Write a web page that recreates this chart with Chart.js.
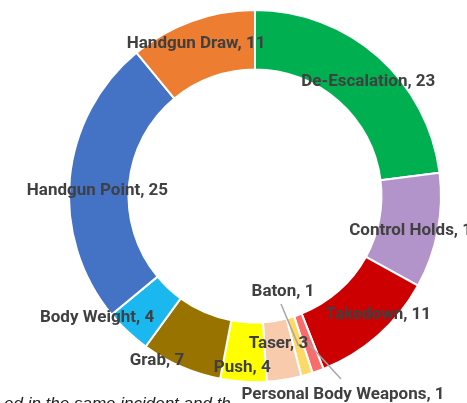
<!DOCTYPE html>
<html>
<head>
<meta charset="utf-8">
<script src="https://cdn.jsdelivr.net/npm/chart.js@4/dist/chart.umd.min.js"></script>
<style>
  html, body { margin: 0; padding: 0; background: #fff; }
  #wrap { width: 467px; height: 403px; position: relative; }
</style>
</head>
<body>
<div id="wrap"><canvas id="forceChart" width="467" height="403"></canvas></div>
<script>
// categories, clockwise from 12 o'clock
var forceTypes = ['De-Escalation', 'Control Holds', 'Takedown', 'Personal Body Weapons', 'Baton',
    'Taser', 'Push', 'Grab', 'Body Weight', 'Handgun Point', 'Handgun Draw'];
// counts
var forceCounts = [23, 10, 11, 1, 1, 3, 4, 7, 4, 25, 11];
var sliceColors = ['#00B050', '#B294CB', '#CC0000', '#F86C6C', '#FFD966',
    '#F8CBAD', '#FFFF00', '#997300', '#1AB8EE', '#4472C4', '#ED7D31'];

// label nudges from the middle of each ring segment (dx, dy), leader = draw a line
var labelNudge = [
    { dx: 10, dy: 3 }, { dx: 7, dy: 5 }, { dx: 20, dy: 2 },
    { dx: 0, dy: 0, at: [343, 395], leader: true },
    { dx: 0, dy: 0, at: [283, 292], leader: true },
    { dx: -1, dy: -7 }, { dx: -3, dy: 16 }, { dx: -36, dy: 21 },
    { dx: -51, dy: 8 }, { dx: -2, dy: 9 }, { dx: -6, dy: -5 }
];

// draws "Name, value" labels the way Excel does on the ring
var ringLabels = {
    id: 'ringLabels',
    afterDatasetsDraw: function (chart) {
        var ctx = chart.ctx;
        var arcs = chart.getDatasetMeta(0).data;
        ctx.save();
        ctx.font = 'bold 17px Roboto, "Liberation Sans", sans-serif';
        ctx.fillStyle = '#404040';
        ctx.textAlign = 'center';
        ctx.textBaseline = 'middle';
        arcs.forEach(function (arc, i) {
            var p = arc.tooltipPosition();
            var n = labelNudge[i];
            var txt = forceTypes[i] + ', ' + forceCounts[i];
            if (n.leader) {
                var lx = n.at[0], ly = n.at[1];
                ctx.strokeStyle = '#A6A6A6';
                ctx.lineWidth = 1.5;
                ctx.beginPath();
                ctx.moveTo(lx - 2, ly + (ly < p.y ? 12 : -16));
                ctx.lineTo(p.x, p.y);
                ctx.stroke();
                ctx.fillText(txt, lx, ly);
            } else {
                ctx.fillText(txt, p.x + n.dx, p.y + n.dy);
            }
        });
        // cut-off caption line under the chart
        ctx.font = 'italic 17px "Liberation Sans", sans-serif';
        ctx.fillStyle = '#222';
        ctx.textAlign = 'left';
        ctx.textBaseline = 'alphabetic';
        ctx.fillText('ed in the same incident and th', 4, 409);
        ctx.restore();
    }
};

var forceChart = new Chart(document.getElementById('forceChart'), {
    type: 'doughnut',
    data: {
        labels: forceTypes,
        datasets: [{
            data: forceCounts,
            backgroundColor: sliceColors,
            borderColor: '#ffffff',
            borderWidth: 2
        }]
    },
    options: {
        responsive: false,
        animation: false,
        cutout: '68%',
        layout: { padding: { left: 68, right: 25, top: 9, bottom: 20 } },
        plugins: {
            legend: { display: false },
            tooltip: { enabled: false }
        }
    },
    plugins: [ringLabels]
});
</script>
</body>
</html>
